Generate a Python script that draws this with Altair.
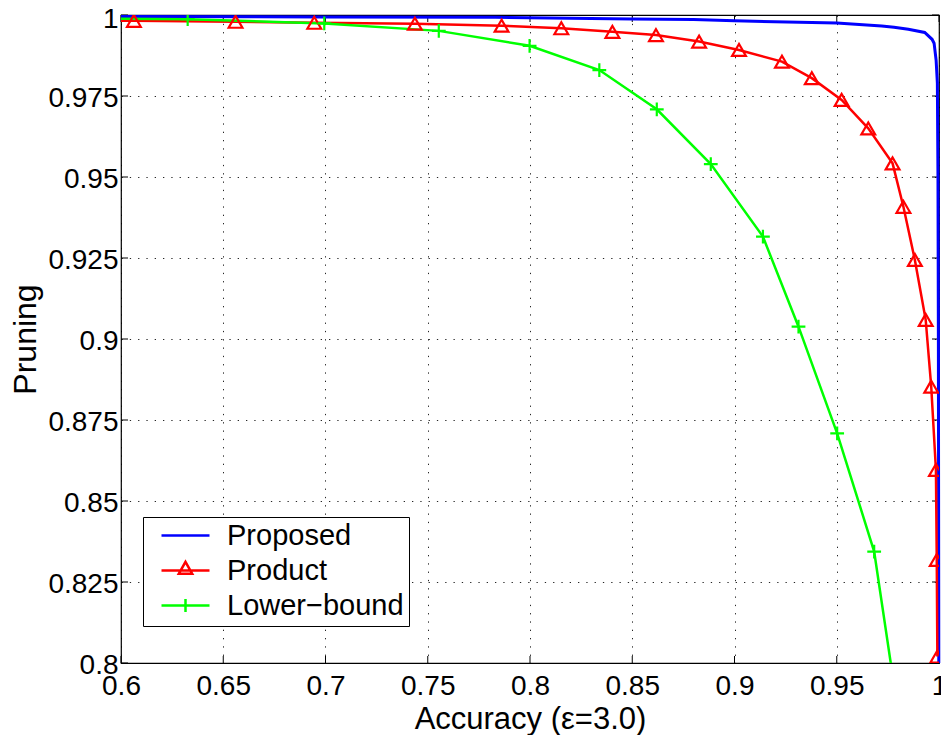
import altair as alt
import pandas as pd

# ---------------- data ----------------
x_ticks = [0.6, 0.65, 0.7, 0.75, 0.8, 0.85, 0.9, 0.95, 1.0]
y_ticks = [0.8, 0.825, 0.85, 0.875, 0.9, 0.925, 0.95, 0.975, 1.0]

series_names = ["Proposed", "Product", "Lower\u2212bound"]
series_colors = ["#0000ff", "#ff0000", "#00ff00"]

proposed_acc = [0.6, 0.7, 0.783, 0.85, 0.88, 0.90, 0.95, 0.972, 0.978, 0.985,
                0.993, 0.9966, 0.9976, 0.9986, 0.9992, 0.9995, 0.9997, 0.9998, 0.9999]
proposed_prun = [0.9995, 0.9994, 0.9993, 0.9988, 0.9986, 0.9982, 0.9975, 0.9966, 0.9962, 0.9956,
                 0.9946, 0.9925, 0.9913, 0.986, 0.979, 0.95, 0.9, 0.85, 0.8]

product_acc = [0.556, 0.6063, 0.656, 0.6945, 0.7437, 0.7861, 0.8153, 0.8403, 0.8616, 0.8827,
               0.9022, 0.9232, 0.9378, 0.9524, 0.9654, 0.9773, 0.9826, 0.9882, 0.9935, 0.9962,
               0.9985, 0.9989, 0.9992]
product_prun = [0.9985, 0.9982, 0.9979, 0.9976, 0.9973, 0.9967, 0.9959, 0.9948, 0.9938, 0.9918,
                0.9892, 0.9856, 0.9805, 0.9738, 0.9650, 0.9542, 0.9408, 0.9244, 0.9059, 0.8853,
                0.8596, 0.8318, 0.802]

lower_acc = [0.56, 0.6326, 0.6994, 0.7554, 0.7998, 0.8339, 0.862, 0.8884, 0.9139, 0.9313,
             0.9502, 0.9683, 0.983]
lower_prun = [0.9990, 0.9987, 0.9974, 0.9951, 0.9905, 0.983, 0.9709, 0.954, 0.9316, 0.9038,
              0.8709, 0.8344, 0.772]

# legend glyphs: line segment plus marker (custom SVG paths)
legend_glyphs = ["M-1,0H1",
                 "M-1,0H1M0,-0.36L0.28,0.14H-0.28Z",
                 "M-1,0H1M0,-0.27V0.27"]
marker_shapes = ["triangle-up", "M-1,0H1M0,-1V1"]

rows = []
for name, xs_, ys_ in zip(series_names, [proposed_acc, product_acc, lower_acc],
                          [proposed_prun, product_prun, lower_prun]):
    for i, (a, p) in enumerate(zip(xs_, ys_)):
        rows.append({"series": name, "acc": a, "prun": p, "order": i})
df = pd.DataFrame(rows)

# inward tick marks on the four sides of the box (MATLAB style)
left_ticks = pd.DataFrame({"acc": [x_ticks[0]] * len(y_ticks), "prun": y_ticks})
right_ticks = pd.DataFrame({"acc": [x_ticks[-1]] * len(y_ticks), "prun": y_ticks})
bottom_ticks = pd.DataFrame({"acc": x_ticks, "prun": [y_ticks[0]] * len(x_ticks)})
top_ticks = pd.DataFrame({"acc": x_ticks, "prun": [y_ticks[-1]] * len(x_ticks)})

FONT = "Liberation Sans"
W, H = 818, 648
TICK = 7

x_scale = alt.Scale(domain=[0.6, 1.0], nice=False, zero=False)
y_scale = alt.Scale(domain=[0.8, 1.0], nice=False, zero=False)

grid_kw = dict(grid=True, gridColor="#000000", gridDash=[1.3, 7], gridWidth=1, gridOpacity=0.85,
               ticks=False, tickSize=0, domain=False, labelFont=FONT, labelFontSize=28,
               labelColor="black", labelOverlap=False, labelFlush=False, labelBound=False,
               titleFont=FONT, titleFontWeight="normal", titleColor="black",
               format=".4~g")

x_enc = alt.X("acc:Q", scale=x_scale,
              axis=alt.Axis(values=x_ticks, title="Accuracy (\u03b5=3.0)",
                            labelBaseline="alphabetic", labelPadding=31,
                            titleBaseline="alphabetic", titleY=65, titleFontSize=31,
                            **grid_kw))
y_enc = alt.Y("prun:Q", scale=y_scale,
              axis=alt.Axis(values=y_ticks, title="Pruning", labelPadding=3,
                            labelBaseline="alphabetic",
                            labelOffset={"condition": {"test": "datum.value >= 1", "value": 12},
                                         "value": 10},
                            titleBaseline="bottom", titleX=-79, titleFontSize=32,
                            **grid_kw))

color_scale = alt.Scale(domain=series_names, range=series_colors)

base = alt.Chart(df)

blue_line = base.transform_filter(alt.datum.series == series_names[0]).mark_line(
    strokeWidth=3).encode(
    x=x_enc, y=y_enc,
    color=alt.Color("series:N", scale=color_scale, legend=None),
    order="order:Q")

other_lines = base.transform_filter(alt.datum.series != series_names[0]).mark_line(
    strokeWidth=2.5, clip=True).encode(
    x=x_enc, y=y_enc,
    color=alt.Color("series:N", scale=color_scale, legend=None),
    order="order:Q")

markers = base.transform_filter(alt.datum.series != series_names[0]).mark_point(
    filled=False, strokeWidth=2.2, size=190, opacity=1, clip=True).encode(
    x=x_enc, y=y_enc,
    color=alt.Color("series:N", scale=color_scale, legend=None),
    shape=alt.Shape("series:N", scale=alt.Scale(domain=series_names[1:], range=marker_shapes),
                    legend=None))

lt = alt.Chart(left_ticks).mark_rule(color="black", strokeWidth=1, x2Offset=TICK).encode(
    x=x_enc, x2="acc:Q", y=y_enc)
rt = alt.Chart(right_ticks).mark_rule(color="black", strokeWidth=1, xOffset=-TICK).encode(
    x=x_enc, x2="acc:Q", y=y_enc)
bt = alt.Chart(bottom_ticks).mark_rule(color="black", strokeWidth=1, yOffset=-TICK).encode(
    x=x_enc, y=y_enc, y2="prun:Q")
tt = alt.Chart(top_ticks).mark_rule(color="black", strokeWidth=1, y2Offset=TICK).encode(
    x=x_enc, y=y_enc, y2="prun:Q")

leg = alt.Legend(orient="none", legendX=22, legendY=502, fillColor="white",
                 strokeColor="black", padding=5, symbolSize=2304,
                 symbolStrokeWidth=2.5, symbolOffset=12, labelOffset=16, labelFont=FONT,
                 labelFontSize=29, labelColor="black", rowPadding=5, clipHeight=27,
                 labelLimit=400)

legend_layer = base.transform_filter("false").mark_point(
    filled=False, strokeWidth=2.5, size=2304, opacity=1).encode(
    x=x_enc, y=y_enc,
    color=alt.Color("series:N", scale=color_scale, legend=leg, title=None),
    shape=alt.Shape("series:N", scale=alt.Scale(domain=series_names, range=legend_glyphs),
                    legend=leg, title=None))

chart = alt.layer(lt, rt, bt, tt, blue_line, other_lines, markers, legend_layer).resolve_scale(
    color="independent", shape="independent"
).properties(
    width=W, height=H,
    autosize=alt.AutoSizeParams(type="none"),
    padding={"left": 113, "top": 7, "right": 2, "bottom": 72},
    background="white",
).configure_view(stroke="black", strokeWidth=1.2)

chart.save("out.html", embed_options={"renderer": "svg", "actions": False})
